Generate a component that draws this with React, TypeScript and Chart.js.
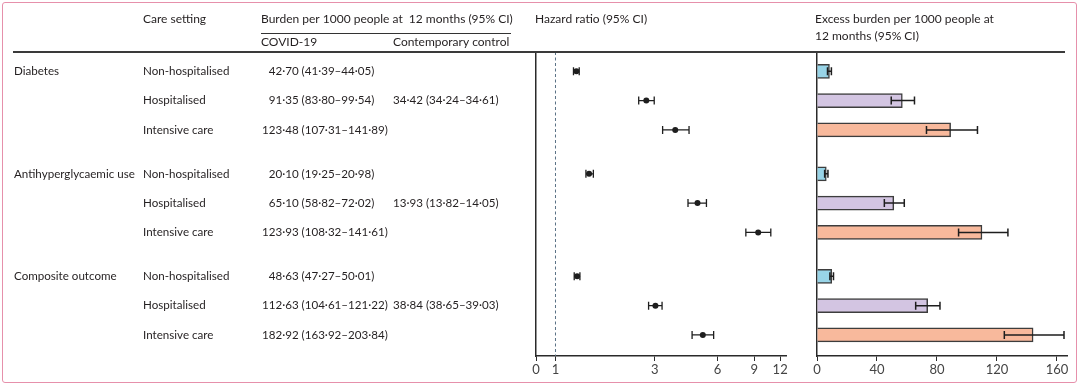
import React, { useEffect, useRef } from "react";
import { Chart, registerables } from "chart.js";

Chart.register(...registerables);

// ---------- data ----------
const groups = ["Diabetes", "Antihyperglycaemic use", "Composite outcome"];
const careSettings = ["Non-hospitalised", "Hospitalised", "Intensive care"];

const covidEst = [42.7, 91.35, 123.48, 20.1, 65.1, 123.93, 48.63, 112.63, 182.92];
const covidLow = [41.39, 83.8, 107.31, 19.25, 58.82, 108.32, 47.27, 104.61, 163.92];
const covidHigh = [44.05, 99.54, 141.89, 20.98, 72.02, 141.61, 50.01, 121.22, 203.84];

const controlEst = [34.42, 13.93, 38.84];
const controlLow = [34.24, 13.82, 38.65];
const controlHigh = [34.61, 14.05, 39.03];

const hrEst = [1.26, 2.73, 3.76, 1.45, 4.81, 9.41, 1.27, 3.02, 5.1];
const hrLow = [1.22, 2.51, 3.27, 1.4, 4.33, 8.21, 1.23, 2.8, 4.53];
const hrHigh = [1.3, 2.98, 4.38, 1.52, 5.31, 10.82, 1.31, 3.25, 5.75];

const excessEst = [8.3, 56.9, 89.1, 6.2, 51.2, 110.0, 9.8, 73.8, 144.1];
const excessLow = [7.0, 49.5, 73.0, 5.1, 44.9, 94.4, 8.6, 65.8, 124.9];
const excessHigh = [9.6, 65.0, 107.0, 7.3, 58.2, 127.3, 11.0, 82.0, 164.7];

const hrTicks = [0, 1, 3, 6, 9, 12];
const excessTicks = [0, 40, 80, 120, 160];

const settingColors = ["#98d4e7", "#d3c5e2", "#f8b99c"];

// ---------- helpers ----------
const FONT = 'Lato, "Noto Sans", sans-serif';
const TEXT = "#231f20";
const HR_ZERO = 0.806; // where "0" is drawn on the log axis
const ROWS_PER_GROUP = careSettings.length;
const GROUP_STEP = 3.5;
const rowPos = covidEst.map(
  (_, i) => Math.floor(i / ROWS_PER_GROUP) * GROUP_STEP + (i % ROWS_PER_GROUP)
);
const Y_MIN = -0.66;
const Y_MAX = 9.72;

const fmt = (v: number) => v.toFixed(2).replace(".", "·");
const ciText = (e: number, l: number, h: number) => `${fmt(e)} (${fmt(l)}–${fmt(h)})`;

function drawErrorBars(
  chart: any,
  lows: number[],
  highs: number[],
  capHalf: number,
  width: number,
  color: string
) {
  const { ctx } = chart;
  const xs = chart.scales.x;
  const ys = chart.scales.y;
  ctx.save();
  ctx.strokeStyle = color;
  ctx.lineWidth = width;
  lows.forEach((lo, i) => {
    const y = ys.getPixelForValue(rowPos[i]);
    const x1 = xs.getPixelForValue(lo);
    const x2 = xs.getPixelForValue(highs[i]);
    ctx.beginPath();
    ctx.moveTo(x1, y);
    ctx.lineTo(x2, y);
    ctx.moveTo(x1, y - capHalf);
    ctx.lineTo(x1, y + capHalf);
    ctx.moveTo(x2, y - capHalf);
    ctx.lineTo(x2, y + capHalf);
    ctx.stroke();
  });
  ctx.restore();
}

const axisStyle = (ticksFont = 13) => ({
  grid: {
    drawOnChartArea: false,
    drawTicks: true,
    tickLength: 5,
    color: "#2a2a2a",
    lineWidth: 1,
  },
  border: { display: true, color: "#2a2a2a", width: 1.5 },
  ticks: {
    font: { family: FONT, size: ticksFont },
    color: "#444",
    padding: 1,
    autoSkip: false,
    maxRotation: 0,
  },
});

const yAxis = () => ({
  type: "linear" as const,
  reverse: true,
  offset: false,
  min: Y_MIN,
  max: Y_MAX,
  afterFit: (s: any) => {
    s.width = 0;
  },
  grid: { drawOnChartArea: false, drawTicks: false, offset: false },
  ticks: { display: false },
  border: { display: true, color: "#2a2a2a", width: 1.5 },
});

// ---------- left chart: table + hazard ratio ----------
const tablePlugin = {
  id: "tablePlugin",
  beforeDatasetsDraw(chart: any) {
    const { ctx, chartArea } = chart;
    const xs = chart.scales.x;
    // reference line at HR = 1
    const x1 = xs.getPixelForValue(1);
    ctx.save();
    ctx.strokeStyle = "#5b7285";
    ctx.lineWidth = 1;
    ctx.setLineDash([3, 2.5]);
    ctx.beginPath();
    ctx.moveTo(x1, chartArea.top);
    ctx.lineTo(x1, chartArea.bottom);
    ctx.stroke();
    ctx.restore();
    drawErrorBars(chart, hrLow, hrHigh, 4, 1.3, "#1e1e1e");
  },
  afterDraw(chart: any) {
    const { ctx, chartArea, width } = chart;
    const ys = chart.scales.y;
    ctx.save();
    ctx.fillStyle = TEXT;
    ctx.font = `12px ${FONT}`;
    ctx.textBaseline = "middle";
    ctx.textAlign = "left";

    // headers
    ctx.fillText("Care setting", 143, 19);
    ctx.fillText("Burden per 1000 people at  12 months (95% CI)", 261, 19);
    ctx.fillText("COVID-19", 261, 42);
    ctx.fillText("Contemporary control", 393, 42);
    ctx.fillText("Hazard ratio (95% CI)", 535, 19);

    ctx.strokeStyle = "#333";
    ctx.lineWidth = 1;
    ctx.beginPath();
    ctx.moveTo(261, 33.5);
    ctx.lineTo(511, 33.5);
    ctx.stroke();

    ctx.strokeStyle = "#3a3a3a";
    ctx.lineWidth = 1.8;
    ctx.beginPath();
    ctx.moveTo(13, chartArea.top);
    ctx.lineTo(width, chartArea.top);
    ctx.stroke();

    // rows
    ctx.font = `11.6px ${FONT}`;
    const decX = 262 + ctx.measureText("123").width;
    covidEst.forEach((v, i) => {
      const y = ys.getPixelForValue(rowPos[i]);
      const r = i % ROWS_PER_GROUP;
      const g = Math.floor(i / ROWS_PER_GROUP);
      if (r === 0) ctx.fillText(groups[g], 14, y);
      ctx.fillText(careSettings[r], 143, y);
      const intPart = String(Math.floor(v));
      const x = decX - ctx.measureText(intPart).width;
      ctx.fillText(ciText(v, covidLow[i], covidHigh[i]), x, y);
      if (r === 1) {
        ctx.fillText(ciText(controlEst[g], controlLow[g], controlHigh[g]), 393, y);
      }
    });
    ctx.restore();
  },
};

// ---------- right chart: excess burden ----------
const barPlugin = {
  id: "barPlugin",
  afterDatasetsDraw(chart: any) {
    drawErrorBars(chart, excessLow, excessHigh, 4, 1.5, "#1e1e1e");
  },
  afterDraw(chart: any) {
    const { ctx, chartArea } = chart;
    ctx.save();
    ctx.fillStyle = TEXT;
    ctx.font = `12px ${FONT}`;
    ctx.textBaseline = "middle";
    ctx.textAlign = "left";
    ctx.fillText("Excess burden per 1000 people at", 15, 19);
    ctx.fillText("12 months (95% CI)", 15, 36);
    ctx.strokeStyle = "#3a3a3a";
    ctx.lineWidth = 1.8;
    ctx.beginPath();
    ctx.moveTo(0, chartArea.top);
    ctx.lineTo(265, chartArea.top);
    ctx.stroke();
    ctx.restore();
  },
};

export default function App() {
  const leftRef = useRef<HTMLCanvasElement>(null);
  const rightRef = useRef<HTMLCanvasElement>(null);

  useEffect(() => {
    const left = new Chart(leftRef.current as HTMLCanvasElement, {
      type: "scatter",
      data: {
        datasets: [
          {
            data: hrEst.map((v, i) => ({ x: v, y: rowPos[i] })),
            pointRadius: 3,
            pointBackgroundColor: "#1e1e1e",
            pointBorderWidth: 0,
            showLine: false,
          },
        ],
      },
      options: {
        animation: false,
        responsive: false,
        devicePixelRatio: 1,
        layout: { padding: { left: 536, right: 14, top: 52, bottom: 0 } },
        plugins: { legend: { display: false }, tooltip: { enabled: false } },
        scales: {
          x: {
            type: "logarithmic",
            min: HR_ZERO,
            max: 12.8,
            afterFit: (s: any) => {
              s.height = 33;
            },
            afterBuildTicks: (s: any) => {
              s.ticks = hrTicks.map((t) => ({ value: t === 0 ? HR_ZERO : t }));
            },
            ...axisStyle(),
            ticks: {
              ...axisStyle().ticks,
              callback: (v: any) => (v < 1 ? "0" : String(v)),
            },
          },
          y: yAxis(),
        } as any,
      },
      plugins: [tablePlugin],
    });

    const right = new Chart(rightRef.current as HTMLCanvasElement, {
      type: "bar",
      data: {
        datasets: [
          {
            data: excessEst.map((v, i) => ({ x: v, y: rowPos[i] })),
            backgroundColor: excessEst.map((_, i) => settingColors[i % ROWS_PER_GROUP]),
            borderColor: "#3d3d3d",
            borderWidth: 1.5,
            barThickness: 14,
          },
        ],
      },
      options: {
        animation: false,
        responsive: false,
        devicePixelRatio: 1,
        indexAxis: "y",
        layout: { padding: { left: 17, right: 13, top: 52, bottom: 0 } },
        plugins: { legend: { display: false }, tooltip: { enabled: false } },
        scales: {
          x: {
            type: "linear",
            min: 0,
            max: 166.7,
            afterFit: (s: any) => {
              s.height = 33;
            },
            afterBuildTicks: (s: any) => {
              s.ticks = excessTicks.map((t) => ({ value: t }));
            },
            ...axisStyle(),
          },
          y: yAxis(),
        } as any,
      },
      plugins: [barPlugin],
    });

    return () => {
      left.destroy();
      right.destroy();
    };
  }, []);

  return (
    <div
      style={{
        position: "absolute",
        left: 0,
        top: 0,
        width: 1080,
        height: 389,
        background: "#fff",
        overflow: "hidden",
      }}
    >
      <canvas
        ref={leftRef}
        width={800}
        height={389}
        style={{ position: "absolute", left: 0, top: 0, width: 800, height: 389 }}
      />
      <canvas
        ref={rightRef}
        width={280}
        height={389}
        style={{ position: "absolute", left: 800, top: 0, width: 280, height: 389 }}
      />
      <div
        style={{
          position: "absolute",
          left: 2,
          top: 2,
          width: 1073,
          height: 379,
          border: "1.5px solid #e690ab",
          borderRadius: 3,
          pointerEvents: "none",
        }}
      />
    </div>
  );
}
